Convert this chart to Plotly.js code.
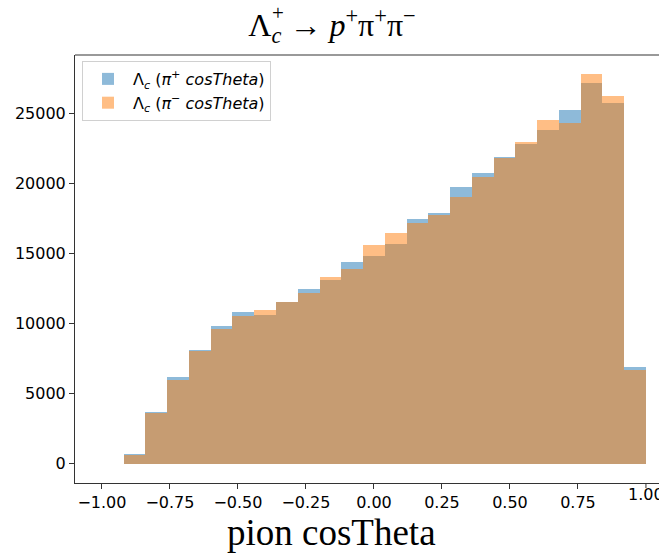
<!DOCTYPE html>
<html>
<head>
<meta charset="utf-8">
<script src="https://cdn.plot.ly/plotly-3.0.1.min.js"></script>
<style>html,body{margin:0;padding:0;background:#fff;}#chart{width:659px;height:553px;}</style>
</head>
<body>
<div id="chart"></div>
<script>
// bin centres of the 24 histogram bins (width 0.08, from -0.92 to 1.00)
const binCenters = [-0.88,-0.80,-0.72,-0.64,-0.56,-0.48,-0.40,-0.32,-0.24,-0.16,-0.08,0.00,
                    0.08,0.16,0.24,0.32,0.40,0.48,0.56,0.64,0.72,0.80,0.88,0.96];
const binWidth = 0.08;
const piPlusCounts  = [690,3690,6170,8110,9850,10790,10640,11520,12440,13140,14420,14820,
                       15680,17480,17870,19720,20770,21870,22790,23790,25230,27140,25760,6880];
const piMinusCounts = [610,3580,5980,8020,9620,10540,10970,11510,12210,13300,13870,15580,
                       16440,17150,17750,19060,20440,21810,22950,24500,24290,27780,26210,6690];
const seriesNames = ["Λ<sub><i>c</i></sub> (<i>π</i><sup>+</sup> <i>cosTheta</i>)",
                     "Λ<sub><i>c</i></sub> (<i>π</i><sup>−</sup> <i>cosTheta</i>)"];
const xTickVals = [-1.00,-0.75,-0.50,-0.25,0.00,0.25,0.50,0.75,1.00];
const yTickVals = [0,5000,10000,15000,20000,25000];

const traces = [
  {type:'bar', x:binCenters, y:piPlusCounts, width:binWidth, name:seriesNames[0],
   marker:{color:'#1f77b4', line:{width:0}}, opacity:0.5},
  {type:'bar', x:binCenters, y:piMinusCounts, width:binWidth, name:seriesNames[1],
   marker:{color:'#ff7f0e', line:{width:0}}, opacity:0.5}
];

const tickFont = {family:'DejaVu Sans', size:16, color:'#000'};
const layout = {
  width:659, height:553,
  margin:{l:75, r:0, t:55, b:70},
  paper_bgcolor:'#fff', plot_bgcolor:'#fff',
  barmode:'overlay', bargap:0,
  showlegend:true,
  legend:{x:0.012, y:0.986, xanchor:'left', yanchor:'top',
          bgcolor:'rgba(255,255,255,0.8)', bordercolor:'#d0d0d0', borderwidth:1,
          itemwidth:40,
          font:{family:'DejaVu Sans', size:16, color:'#000'}, tracegroupgap:4},
  title:{text:'Λ<sub><i>c</i></sub> → <i>p</i><sup>+</sup>π<sup>+</sup>π<sup>−</sup>',
         x:332/659, xanchor:'center', xref:'container', y:0.955, yref:'container', yanchor:'middle',
         font:{family:'Liberation Serif', size:32, color:'#000'}},
  xaxis:{range:[-1.099,1.048], tickvals:xTickVals.slice(0,-1), tickformat:'.2f',
         showgrid:false, zeroline:false, showline:true, linecolor:'#333', linewidth:1,
         ticks:'outside', ticklen:5, tickcolor:'#333', tickwidth:1,
         tickfont:tickFont},
  yaxis:{range:[-1389,29171], tickvals:yTickVals, tickformat:'d',
         showgrid:false, zeroline:false, showline:true, linecolor:'#333', linewidth:1,
         ticks:'outside', ticklen:5, tickcolor:'#333', tickwidth:1,
         tickfont:tickFont},
  shapes:[{type:'line', xref:'paper', yref:'paper', x0:0, x1:1, y0:1, y1:1,
           line:{color:'#999', width:2}},
          {type:'line', xref:'x', yref:'paper', x0:xTickVals[8], x1:xTickVals[8], y0:0, y1:-5/428,
           line:{color:'#333', width:1}}],
  annotations:[{text:'pion cosTheta', xref:'paper', yref:'paper',
                x:(331-75)/584, y:-(532-483)/428, xanchor:'center', yanchor:'middle',
                showarrow:false, font:{family:'Liberation Serif', size:37, color:'#000'}},
               {text:'1.00', xref:'x', yref:'paper', x:xTickVals[8], y:-(494-483)/428,
                xanchor:'center', yanchor:'middle', showarrow:false, font:tickFont},
               {text:'+', xref:'paper', yref:'paper', x:(278-75)/584, y:1+(55-13)/428,
                xanchor:'center', yanchor:'middle', showarrow:false,
                font:{family:'Liberation Serif', size:21, color:'#000'}}]
};
Plotly.newPlot('chart', traces, layout, {displayModeBar:false});
</script>
</body>
</html>
